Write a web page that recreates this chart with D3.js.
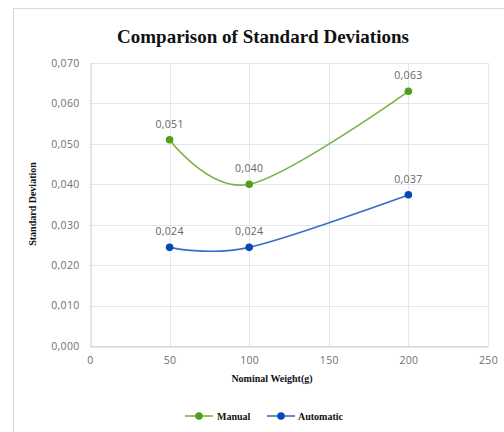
<!DOCTYPE html>
<html>
<head>
<meta charset="utf-8">
<script src="https://cdn.jsdelivr.net/npm/d3@7/dist/d3.min.js"></script>
<style>
  html, body { margin: 0; padding: 0; background: #fff; }
  svg { display: block; }
</style>
</head>
<body>
<svg id="chart" width="504" height="432"></svg>
<script>
// Nominal weights (g) and standard deviations for each dosing method
const weights = [50, 100, 200];
const manualValues = [0.051, 0.040, 0.063];
const automaticValues = [0.0244, 0.0244, 0.0374];
const xTicks = [0, 50, 100, 150, 200, 250];
const yTicks = [0, 0.01, 0.02, 0.03, 0.04, 0.05, 0.06, 0.07];
const seriesNames = ["Manual", "Automatic"];

const svg = d3.select("#chart");

// Chart frame
svg.append("rect")
  .attr("x", 13.5).attr("y", 8.5)
  .attr("width", 520).attr("height", 460)
  .attr("fill", "#fff")
  .attr("stroke", "#d9d9d9").attr("stroke-width", 1);

const x = d3.scaleLinear().domain([0, 250]).range([90, 488]);
const y = d3.scaleLinear().domain([0, 0.07]).range([346, 63]);

const fmt = v => d3.format(".3f")(v).replace(".", ",");
const labelFont = "'Open Sans', 'Noto Sans', sans-serif";
const serif = "'Liberation Serif', 'Times New Roman', serif";

// Gridlines
const grid = svg.append("g");
grid.selectAll("line.h").data(yTicks).enter().append("line")
  .attr("x1", x(0)).attr("x2", x(250))
  .attr("y1", d => Math.round(y(d)) + 0.5).attr("y2", d => Math.round(y(d)) + 0.5)
  .attr("stroke", "#e3e6ec").attr("stroke-width", 1);
grid.selectAll("line.v").data(xTicks.slice(1)).enter().append("line")
  .attr("y1", y(0)).attr("y2", y(0.07))
  .attr("x1", d => Math.round(x(d)) + 0.5).attr("x2", d => Math.round(x(d)) + 0.5)
  .attr("stroke", "#e3e6ec").attr("stroke-width", 1);

// Axes
const xAxis = d3.axisBottom(x).tickValues(xTicks).tickSize(0).tickPadding(10)
  .tickFormat(d3.format("d"));
const gx = svg.append("g").attr("transform", `translate(0,${Math.round(y(0)) + 0.5})`).call(xAxis);
gx.select(".domain").attr("stroke", "#c8ccd4");

const yAxis = d3.axisLeft(y).tickValues(yTicks).tickSize(0).tickPadding(11)
  .tickFormat(fmt);
const gy = svg.append("g").attr("transform", `translate(${Math.round(x(0)) + 0.5},0)`).call(yAxis);
gy.select(".domain").attr("stroke", "#c8ccd4");

svg.selectAll(".tick text")
  .attr("fill", "#707070")
  .style("font-family", labelFont)
  .style("font-size", "10.5px")
  .style("letter-spacing", "0.3px");

// Title and axis titles
svg.append("text")
  .attr("x", 263).attr("y", 43)
  .attr("text-anchor", "middle")
  .style("font-family", serif)
  .style("font-weight", "bold").style("font-size", "19px")
  .attr("fill", "#111")
  .text("Comparison of Standard Deviations");

svg.append("text")
  .attr("x", 272).attr("y", 382)
  .attr("text-anchor", "middle")
  .style("font-family", serif)
  .style("font-weight", "bold").style("font-size", "10px")
  .attr("fill", "#111")
  .text("Nominal Weight(g)");

svg.append("text")
  .attr("transform", "translate(36,204) rotate(-90)")
  .attr("text-anchor", "middle")
  .style("font-family", serif)
  .style("font-weight", "bold").style("font-size", "10px")
  .attr("fill", "#111")
  .text("Standard Deviation");

// Series
const series = [
  { name: seriesNames[0], values: manualValues, line: "#78b443", marker: "#4f9f1a" },
  { name: seriesNames[1], values: automaticValues, line: "#3a6dc6", marker: "#0a47b6" }
];

const lineGen = d3.line()
  .x(d => x(d[0])).y(d => y(d[1]))
  .curve(d3.curveCardinal.tension(0));

series.forEach(s => {
  const pts = weights.map((w, i) => [w, s.values[i]]);
  svg.append("path")
    .attr("d", lineGen(pts))
    .attr("fill", "none")
    .attr("stroke", s.line).attr("stroke-width", 1.6);
  svg.selectAll(null).data(pts).enter().append("circle")
    .attr("cx", d => x(d[0])).attr("cy", d => y(d[1]))
    .attr("r", 3.8).attr("fill", s.marker);
  svg.selectAll(null).data(pts).enter().append("text")
    .attr("x", d => x(d[0])).attr("y", d => y(d[1]) - 12)
    .attr("text-anchor", "middle")
    .attr("fill", "#666")
    .style("font-family", labelFont)
    .style("font-size", "10.5px")
    .style("letter-spacing", "0.3px")
    .text(d => fmt(d[1]));
});

// Legend
const legend = svg.append("g");
const legendItems = [
  { s: series[0], x0: 185, tx: 217 },
  { s: series[1], x0: 267, tx: 298 }
];
legendItems.forEach(it => {
  legend.append("line")
    .attr("x1", it.x0).attr("x2", it.x0 + 28)
    .attr("y1", 416).attr("y2", 416)
    .attr("stroke", it.s.line).attr("stroke-width", 1.6);
  legend.append("circle")
    .attr("cx", it.x0 + 14).attr("cy", 416).attr("r", 3.8)
    .attr("fill", it.s.marker);
  legend.append("text")
    .attr("x", it.tx).attr("y", 419.5)
    .style("font-family", serif)
    .style("font-weight", "bold").style("font-size", "10px")
    .attr("fill", "#111")
    .text(it.s.name);
});
</script>
</body>
</html>
